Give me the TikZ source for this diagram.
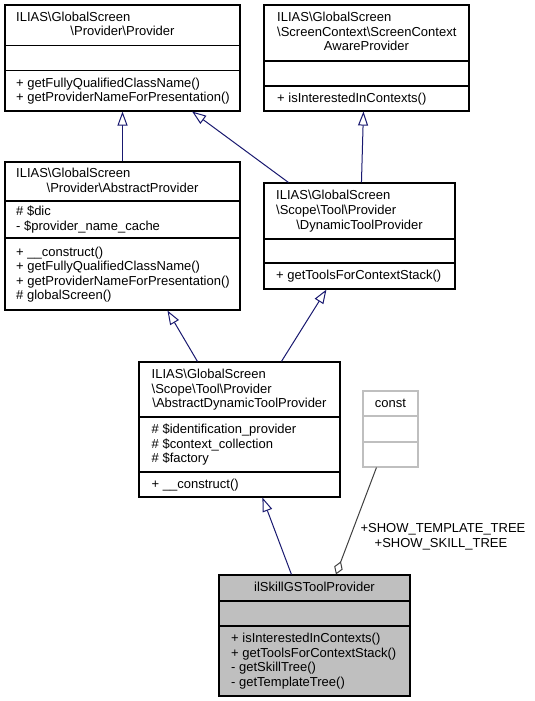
\documentclass[tikz,border=0pt]{standalone}
\usepackage{fontspec}
\setmainfont{Liberation Sans}
\usetikzlibrary{arrows.meta,calc}
\definecolor{edgeblue}{HTML}{191970}
\definecolor{agggray}{HTML}{404040}
\definecolor{boxgray}{HTML}{BFBFBF}
\definecolor{constgray}{HTML}{BFBFBF}
\begin{document}
\begin{tikzpicture}[x=1pt,y=-1pt,
  umlbox/.style={draw=black, line width=1.1pt, inner sep=0pt, fill=white, rectangle},
  divline/.style={draw=black, line width=1.1pt},
  constline/.style={draw=constgray, line width=1.1pt},
  txt/.style={inner sep=0pt, font=\fontsize{13pt}{15pt}\selectfont, anchor=base west},
  ctxt/.style={txt, anchor=base},
  inh/.style={draw=edgeblue, line width=1pt, -{Triangle[length=14pt, width=10pt, fill=white]}},
  agg/.style={draw=agggray, line width=1pt, {Diamond[length=14pt, width=9pt, fill=white]}-},
]
\useasboundingbox[fill=white] (0,0) rectangle (535,701);

% ---- boxes
\node[umlbox, minimum width=235pt, minimum height=106pt] (prov) at (122.5,58) {};
\node[umlbox, minimum width=205pt, minimum height=106pt] (scap) at (366.5,58) {};
\node[umlbox, minimum width=235pt, minimum height=148pt] (aprov) at (122.5,236) {};
\node[umlbox, minimum width=191pt, minimum height=106pt] (dyn) at (359.5,236) {};
\node[umlbox, minimum width=201pt, minimum height=135pt] (absdyn) at (239.5,429.5) {};
\node[umlbox, draw=constgray, minimum width=55pt, minimum height=76pt] (const) at (390.5,429) {};
\node[umlbox, fill=boxgray, minimum width=191pt, minimum height=121pt] (skill) at (314.5,635.5) {};

% ---- dividers
\draw[divline] (prov.west |- 0,45.5) -- (prov.east |- 0,45.5);
\draw[divline] (prov.west |- 0,70.5) -- (prov.east |- 0,70.5);
\draw[divline] (scap.west |- 0,61) -- (scap.east |- 0,61);
\draw[divline] (scap.west |- 0,86) -- (scap.east |- 0,86);
\draw[divline] (aprov.west |- 0,201) -- (aprov.east |- 0,201);
\draw[divline] (aprov.west |- 0,238) -- (aprov.east |- 0,238);
\draw[divline] (dyn.west |- 0,239) -- (dyn.east |- 0,239);
\draw[divline] (dyn.west |- 0,263) -- (dyn.east |- 0,263);
\draw[divline] (absdyn.west |- 0,417) -- (absdyn.east |- 0,417);
\draw[divline] (absdyn.west |- 0,472) -- (absdyn.east |- 0,472);
\draw[constline] (const.west |- 0,416) -- (const.east |- 0,416);
\draw[constline] (const.west |- 0,442) -- (const.east |- 0,442);
\draw[divline] (skill.west |- 0,601) -- (skill.east |- 0,601);
\draw[divline] (skill.west |- 0,626) -- (skill.east |- 0,626);

% ---- texts: Provider
\node[txt] (prov1) at (16,21.5) {ILIAS\textbackslash GlobalScreen};
\node[ctxt] (prov2) at (122.5,36) {\textbackslash Provider\textbackslash Provider};
\node[txt] (prov3) at (16,87) {+ getFullyQualifiedClassName()};
\node[txt] (prov4) at (16,101.5) {+ getProviderNameForPresentation()};
% ScreenContextAwareProvider
\node[txt] (scap1) at (277,22) {ILIAS\textbackslash GlobalScreen};
\node[txt] (scap2) at (277,36.5) {\textbackslash ScreenContext\textbackslash ScreenContext};
\node[ctxt] (scap3) at (366.5,51) {AwareProvider};
\node[txt] (scap4) at (277,102) {+ isInterestedInContexts()};
% AbstractProvider
\node[txt] (aprov1) at (16,177.7) {ILIAS\textbackslash GlobalScreen};
\node[ctxt] (aprov2) at (122.5,192.3) {\textbackslash Provider\textbackslash AbstractProvider};
\node[txt] (aprov3) at (16,215.7) {\# \$dic};
\node[txt] (aprov4) at (16,230.3) {- \$provider\_name\_cache};
\node[txt] (aprov5) at (16,256.1) {+ \_\_construct()};
\node[txt] (aprov6) at (16,270.7) {+ getFullyQualifiedClassName()};
\node[txt] (aprov7) at (16,285.3) {+ getProviderNameForPresentation()};
\node[txt] (aprov8) at (16,299.9) {\# globalScreen()};
% DynamicToolProvider
\node[txt] (dyn1) at (276,199.9) {ILIAS\textbackslash GlobalScreen};
\node[txt] (dyn2) at (276,214.5) {\textbackslash Scope\textbackslash Tool\textbackslash Provider};
\node[ctxt] (dyn3) at (359.5,229.1) {\textbackslash DynamicToolProvider};
\node[txt] (dyn4) at (276,279.5) {+ getToolsForContextStack()};
% AbstractDynamicToolProvider
\node[txt] (ad1) at (151.5,378.4) {ILIAS\textbackslash GlobalScreen};
\node[txt] (ad2) at (151.5,393) {\textbackslash Scope\textbackslash Tool\textbackslash Provider};
\node[ctxt] (ad3) at (239.5,407.6) {\textbackslash AbstractDynamicToolProvider};
\node[txt] (ad4) at (151.5,433.4) {\# \$identification\_provider};
\node[txt] (ad5) at (151.5,448) {\# \$context\_collection};
\node[txt] (ad6) at (151.5,462.6) {\# \$factory};
\node[txt] (ad7) at (151.5,488) {+ \_\_construct()};
% const
\node[ctxt] (const1) at (390.5,407) {const};
% ilSkillGSToolProvider
\node[ctxt] (sk1) at (314.5,591.5) {ilSkillGSToolProvider};
\node[txt] (sk2) at (231,642.6) {+ isInterestedInContexts()};
\node[txt] (sk3) at (231,657.2) {+ getToolsForContextStack()};
\node[txt] (sk4) at (231,671.8) {- getSkillTree()};
\node[txt] (sk5) at (231,686.4) {- getTemplateTree()};

% ---- edges
\draw[inh] (aprov.north) -- (prov.south);
\draw[inh] ($(dyn.north west)+(25,0)$) -- ($(prov.south west)+(187.7,0)$);
\draw[inh] ($(dyn.north west)+(98,0)$) -- ($(scap.south west)+(100,0)$);
\draw[inh] ($(absdyn.north west)+(59,0)$) -- ($(aprov.south west)+(163,0)$);
\draw[inh] ($(absdyn.north west)+(143,0)$) -- ($(dyn.south west)+(63,0)$);
\draw[inh] ($(skill.north west)+(73,0)$) -- ($(absdyn.south west)+(124,0)$);
\draw[agg] ($(skill.north west)+(117.5,0)$) -- ($(const.south west)+(14,0)$);

\node[ctxt] (lab1) at (443,532.5) {+SHOW\_TEMPLATE\_TREE};
\node[ctxt] (lab2) at (441,547) {+SHOW\_SKILL\_TREE};
\end{tikzpicture}
\end{document}
